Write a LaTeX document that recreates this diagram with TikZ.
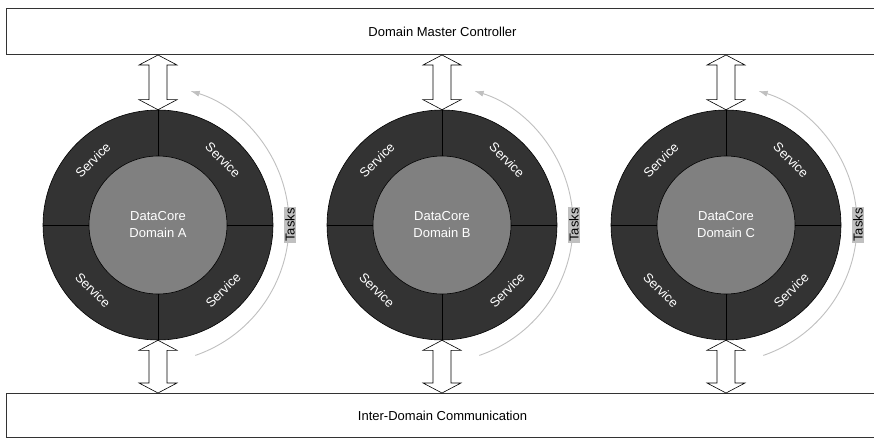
\documentclass[tikz,border=0pt]{standalone}
\usepackage{fontspec}
\setmainfont{Liberation Sans}
\usetikzlibrary{calc,arrows.meta}
\definecolor{ringgray}{HTML}{333333}
\definecolor{coregray}{HTML}{808080}
\definecolor{taskgray}{HTML}{C0C0C0}
\tikzset{
	bar/.style={draw=black!80, line width=1pt, fill=white, inner sep=0pt},
	ring/.style={circle, draw=black, line width=0.6pt, fill=ringgray, minimum size=230pt, inner sep=0pt},
	core/.style={circle, draw=black, line width=0.6pt, fill=coregray, minimum size=138pt, inner sep=0pt, text=white, align=center},
	service/.style={text=white, inner sep=0pt},
	tasks/.style={draw=taskgray, line width=0.9pt, -{Latex[length=9pt,width=6pt]}},
	taskslabel/.style={fill=taskgray, rotate=90, inner sep=1pt},
	dblarrow/.style={draw=black, fill=white, line width=0.6pt},
}
% block arrow with two heads, from a lower point to an upper point
\def\dblarrow(#1)(#2){\draw[dblarrow] let \p1=(#1), \p2=(#2) in (\x1,\y1) -- (\x1-19pt,\y1+10pt) -- (\x1-9pt,\y1+10pt) -- (\x1-9pt,\y2-10pt) -- (\x1-19pt,\y2-10pt) -- (\x1,\y2) -- (\x1+19pt,\y2-10pt) -- (\x1+9pt,\y2-10pt) -- (\x1+9pt,\y1+10pt) -- (\x1+19pt,\y1+10pt) -- cycle;}
% one domain: ring of services round a data core
\def\domain(#1)#2{%
	\node[ring] (ring#2) at (#1) {};
	\node[core] (core#2) at (#1) {DataCore\\Domain #2};
	\draw[line width=0.6pt] (core#2.north) -- (ring#2.north);
	\draw[line width=0.6pt] (core#2.south) -- (ring#2.south);
	\draw[line width=0.6pt] (core#2.east) -- (ring#2.east);
	\draw[line width=0.6pt] (core#2.west) -- (ring#2.west);
	\node[service, rotate=45] (svc#2nw) at ($(ring#2)+(135:92)$) {Service};
	\node[service, rotate=-45] (svc#2ne) at ($(ring#2)+(45:92)$) {Service};
	\node[service, rotate=-45] (svc#2sw) at ($(ring#2)+(225:92)$) {Service};
	\node[service, rotate=45] (svc#2se) at ($(ring#2)+(315:92)$) {Service};
	\coordinate (up#2) at (ring#2.north |- dmc.south);
	\coordinate (down#2) at (ring#2.south |- idc.north);
	\dblarrow(ring#2.north)(up#2)
	\dblarrow(down#2)(ring#2.south)
	\draw[tasks] ($(ring#2)+(-8,1)$) ++(-71:139) arc (-71:73:139);
	\node[taskslabel] (tasks#2) at ($(ring#2)+(132,0)$) {Tasks};
}

\begin{document}
\begin{tikzpicture}[x=1pt, y=1pt, every node/.style={font=\fontsize{13}{17}\selectfont}]
		%%%%% START %%%%%
		\useasboundingbox (0,0) rectangle (874,437);
		\fill[white] (0,0) rectangle (874,437);
		
		\node[bar, anchor=south west, minimum width=872pt, minimum height=46pt] (dmc) at (6,382) {Domain Master Controller};
		\node[bar, anchor=south west, minimum width=872pt, minimum height=44pt] (idc) at (6,-1) {Inter-Domain Communication};
		
		\domain(158,212){A}
		\domain(442,212){B}
		\domain(726,212){C}
		
		%%%%% END %%%%%
	\end{tikzpicture}
\end{document}
